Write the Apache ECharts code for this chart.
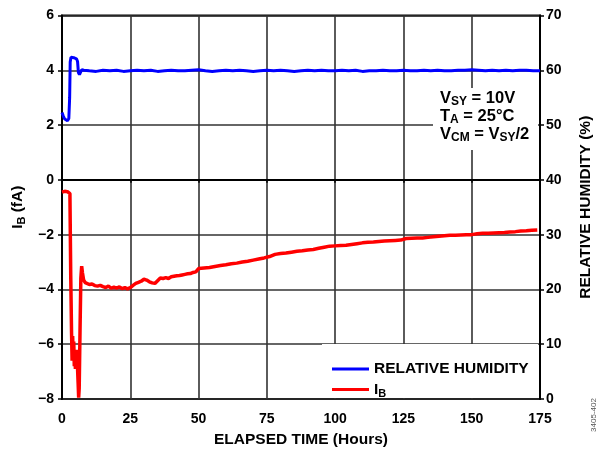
<!DOCTYPE html>
<html><head><meta charset="utf-8">
<script src="https://cdn.jsdelivr.net/npm/echarts@6/dist/echarts.min.js"></script>
<style>html,body{margin:0;padding:0;background:#fff}#c{width:598px;height:449px}</style>
</head><body><div id="c"></div>
<script>
// ---- data ----
const humidityHours = [0,0.5,1,1.5,2,2.5,2.8,3.0,3.3,3.8,4.3,4.8,5.3,5.7,6.0,6.4,6.8,7.2,8,10,12.5,15,17.5,20,22.5,25,27.5,30,32.5,35,37.5,40,42.5,45,47.5,50,52.5,55,57.5,60,62.5,65,67.5,70,72.5,75,77.5,80,82.5,85,87.5,90,92.5,95,97.5,100,102.5,105,107.5,110,112.5,115,117.5,120,122.5,125,127.5,130,132.5,135,137.5,140,142.5,145,147.5,150,152.5,155,157.5,160,162.5,165,167.5,170,172.5,175];
const humidityValues = [52.3,51.6,51.1,50.8,50.8,51.2,55.0,61.5,62.4,62.6,62.3,62.5,62.1,61.6,59.6,59.2,59.5,60.1,60.0,59.9,59.8,60.0,59.9,60.0,59.8,59.9,60.0,59.9,60.0,59.8,59.9,60.0,59.9,59.9,60.0,60.1,59.9,59.8,59.9,60.0,59.9,60.0,59.9,59.8,59.9,60.0,59.9,60.0,59.9,59.8,59.9,60.0,59.9,60.0,59.9,59.9,60.0,59.9,60.0,59.8,59.9,59.9,60.0,59.9,59.9,60.0,59.9,59.9,60.0,59.9,60.0,59.9,59.9,60.0,60.0,60.1,60.0,59.9,60.0,59.9,60.0,59.9,60.0,60.0,59.9,59.9];

const ibHours = [0,0.5,1,1.5,2,2.5,2.9,3.2,3.5,3.7,3.9,4.1,4.3,4.5,4.7,4.9,5.1,5.3,5.5,5.7,5.9,6.1,6.3,6.6,6.9,7.2,7.5,7.9,8.5,9,10,11,12,13,14,15,16,17,18,19,20,21,22,23,24,25,26,27,28,29,30,31,32,33,34,35,36,37,38,39,40,41,42,43,44,45,46,47,48,49,50,52,54,56,58,60,62,64,66,68,70,72,74,76,78,80,82,84,86,88,90,92,94,96,98,100,102,104,106,108,110,112,114,116,118,120,122,124,126,128,130,132,134,136,138,140,142,144,146,148,150,152,154,156,158,160,162,164,166,168,170,172,174];
const ibValues = [-0.45,-0.44,-0.42,-0.44,-0.43,-0.40,-0.50,-3.5,-5.6,-6.6,-5.7,-6.5,-5.9,-6.8,-6.2,-6.9,-6.3,-6.7,-6.2,-6.9,-7.4,-7.95,-7.6,-5.5,-3.6,-3.15,-3.4,-3.65,-3.75,-3.78,-3.82,-3.80,-3.86,-3.88,-3.85,-3.90,-3.93,-3.88,-3.95,-3.92,-3.95,-3.91,-3.97,-3.93,-3.98,-3.93,-3.85,-3.78,-3.74,-3.70,-3.63,-3.66,-3.72,-3.76,-3.78,-3.68,-3.58,-3.60,-3.57,-3.60,-3.54,-3.52,-3.50,-3.49,-3.47,-3.45,-3.43,-3.42,-3.38,-3.36,-3.24,-3.22,-3.20,-3.16,-3.13,-3.10,-3.06,-3.04,-3.00,-2.97,-2.93,-2.89,-2.85,-2.80,-2.72,-2.69,-2.67,-2.64,-2.61,-2.59,-2.56,-2.54,-2.50,-2.46,-2.42,-2.41,-2.40,-2.39,-2.36,-2.33,-2.30,-2.28,-2.27,-2.25,-2.23,-2.22,-2.21,-2.20,-2.14,-2.13,-2.12,-2.12,-2.10,-2.08,-2.06,-2.04,-2.02,-2.02,-2.01,-2.00,-2.00,-1.97,-1.95,-1.95,-1.94,-1.93,-1.92,-1.90,-1.89,-1.87,-1.86,-1.84,-1.83];

const xRange = {min: 0, max: 175, step: 25};
const ibRange = {min: -8, max: 6, step: 2};
const rhRange = {min: 0, max: 70, step: 10};
const seriesNames = ['RELATIVE HUMIDITY', 'IB'];
const annotationLines = [['V','SY',' = 10V'], ['T','A',' = 25°C'], ['V','CM',' = V','SY','/2']];

// ---- chart ----
const FF = 'Liberation Sans, Arial, sans-serif';
const pair = (xs, ys) => xs.map((x, i) => [x, ys[i]]);
const minusFmt = v => (v < 0 ? '\u2212' + Math.abs(v) : String(v));
const lbl = {fontFamily: FF, fontWeight: 'bold', fontSize: 14, color: '#000'};
const richTitle = {
  m: {fontFamily: FF, fontWeight: 'bold', fontSize: 15.5, lineHeight: 16, color: '#000', verticalAlign: 'middle'},
  s: {fontFamily: FF, fontWeight: 'bold', fontSize: 11, lineHeight: 12, padding: [8,0,0,0], color: '#000', verticalAlign: 'middle'}
};

const annoRich = {
  m: {fontFamily: FF, fontWeight: 'bold', fontSize: 16.5, lineHeight: 16, fill: '#000', verticalAlign: 'middle'},
  s: {fontFamily: FF, fontWeight: 'bold', fontSize: 12, lineHeight: 12, padding: [8,0,0,0], fill: '#000', verticalAlign: 'middle'}
};
function annoText(parts) {
  return parts.map((p, i) => {
    const isSub = (parts.length === 3 ? i === 1 : (i === 1 || i === 3));
    return '{' + (isSub ? 's' : 'm') + '|' + p + '}';
  }).join('');
}

const chart = echarts.init(document.getElementById('c'), null, {renderer: 'canvas'});
chart.setOption({
  animation: false,
  backgroundColor: '#fff',
  grid: {left: 62, right: 58, top: 15.5, bottom: 50, containLabel: false, outerBoundsMode: 'none',
    show: true, borderColor: '#000', borderWidth: 2, backgroundColor: 'transparent'},
  xAxis: {
    type: 'value', min: xRange.min, max: xRange.max, interval: xRange.step,
    name: 'ELAPSED TIME (Hours)', nameLocation: 'middle', nameGap: 33,
    nameTextStyle: {fontFamily: FF, fontWeight: 'bold', fontSize: 15.5, color: '#000'},
    axisLine: {show: true, lineStyle: {color: '#000', width: 2}},
    axisTick: {show: true, length: 3, lineStyle: {color: '#000', width: 1.5}},
    axisLabel: Object.assign({margin: 13}, lbl),
    splitLine: {show: true, lineStyle: {color: '#333', width: 1.6}}
  },
  yAxis: [{
    type: 'value', position: 'left', min: ibRange.min, max: ibRange.max, interval: ibRange.step,
    name: '{m|I}{s|B}{m| (fA)}', nameLocation: 'middle', nameGap: 36, nameRotate: 90,
    nameTextStyle: {rich: richTitle},
    axisLine: {show: true, lineStyle: {color: '#000', width: 2}},
    axisTick: {show: true, length: 4, lineStyle: {color: '#000', width: 1.5}},
    axisLabel: Object.assign({margin: 8, formatter: minusFmt}, lbl),
    splitLine: {show: true, lineStyle: {color: '#333', width: 1.6}}
  }, {
    type: 'value', position: 'right', min: rhRange.min, max: rhRange.max, interval: rhRange.step,
    name: 'RELATIVE HUMIDITY (%)', nameLocation: 'middle', nameGap: 38, nameRotate: 90,
    nameTextStyle: {fontFamily: FF, fontWeight: 'bold', fontSize: 15.5, color: '#000'},
    axisLine: {show: true, lineStyle: {color: '#000', width: 2}},
    axisTick: {show: true, length: 4, lineStyle: {color: '#000', width: 1.5}},
    axisLabel: Object.assign({margin: 6}, lbl),
    splitLine: {show: false}
  }],
  legend: {
    orient: 'vertical', left: 327, top: 356, itemWidth: 37, itemHeight: 3, itemGap: 3,
    icon: 'rect', z: 20, selectedMode: false,
    data: seriesNames,
    formatter: n => n === 'IB' ? '{m|I}{s|B}' : '{m|' + n + '}',
    textStyle: {rich: richTitle}
  },
  graphic: [
    {type: 'rect', z: 10, shape: {x: 322, y: 344, width: 216, height: 54}, style: {fill: '#fff'}},
    {type: 'rect', z: 10, shape: {x: 433, y: 88, width: 105, height: 62}, style: {fill: '#fff'}},
    ...annotationLines.map((parts, i) => ({
      type: 'text', z: 11, x: 440, y: 90 + i * 18,
      style: {text: annoText(parts), rich: annoRich, fill: '#000', fontFamily: FF, fontWeight: 'bold', fontSize: 16.5}
    })),
    {type: 'text', z: 11, x: 594, y: 415, rotation: Math.PI / 2,
      style: {text: '3405-402', fontFamily: FF, fontSize: 8, fill: '#555', align: 'center', verticalAlign: 'middle'}}
  ],
  series: [{
    name: seriesNames[0], type: 'line', yAxisIndex: 1, showSymbol: false, symbol: 'none',
    data: pair(humidityHours, humidityValues),
    lineStyle: {color: '#0000ff', width: 3}, itemStyle: {color: '#0000ff'}, z: 5
  }, {
    name: seriesNames[1], type: 'line', yAxisIndex: 0, showSymbol: false, symbol: 'none',
    data: pair(ibHours, ibValues),
    lineStyle: {color: '#ff0000', width: 3.5}, itemStyle: {color: '#ff0000'}, z: 5
  }]
});
</script></body></html>
